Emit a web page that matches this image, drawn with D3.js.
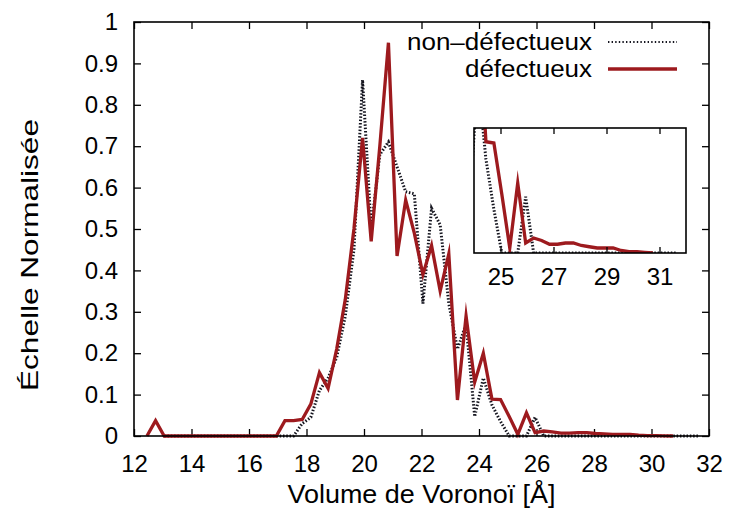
<!DOCTYPE html>
<html>
<head>
<meta charset="utf-8">
<script src="https://cdn.jsdelivr.net/npm/d3@7/dist/d3.min.js"></script>
<style>
  html, body { margin: 0; padding: 0; background: #fff; }
  svg { display: block; font-family: "Liberation Sans", Arial, Helvetica, sans-serif; }
</style>
</head>
<body>
<svg id="chart" width="730" height="514"></svg>
<script>
// Histogram bin centres (Voronoi volume, Å)
const volume = [
  12.45, 12.75, 13.05, 13.35, 13.65, 13.95, 14.25, 14.55, 14.85, 15.15,
  15.45, 15.75, 16.05, 16.35, 16.65, 16.95, 17.25, 17.55, 17.85, 18.15,
  18.45, 18.75, 19.05, 19.35, 19.65, 19.95, 20.25, 20.55, 20.85, 21.15,
  21.45, 21.75, 22.05, 22.35, 22.65, 22.95, 23.25, 23.55, 23.85, 24.15,
  24.45, 24.75, 25.05, 25.35, 25.65, 25.95, 26.25, 26.55, 26.85, 27.15,
  27.45, 27.75, 28.05, 28.35, 28.65, 28.95, 29.25, 29.55, 29.85, 30.15,
  30.45, 30.75, 31.05, 31.35, 31.65
];

// Normalised counts, atoms without defects (null = no bin drawn)
const nonDefectueux = [
  null, null, 0, 0, 0, 0, 0, 0, 0, 0,
  0, 0, 0, 0, 0, 0, 0, 0, 0.03, 0.045,
  0.11, 0.14, 0.19, 0.29, 0.45, 0.86, 0.50, 0.68, 0.71, 0.65,
  0.59, 0.585, 0.32, 0.55, 0.51, 0.32, 0.21, 0.27, 0.047, 0.14,
  0.075, 0.035, 0, 0, 0, 0.045, 0, 0, 0, 0,
  0, 0, 0, 0, 0, 0, 0, 0, 0, 0,
  0, 0, 0, 0, 0
];

// Normalised counts, defective atoms
const defectueux = [
  0, 0.037, 0, 0, 0, 0, 0, 0, 0, 0,
  0, 0, 0, 0, 0, 0, 0.037, 0.037, 0.04, 0.077,
  0.153, 0.115, 0.21, 0.33, 0.50, 0.72, 0.47, 0.70, 0.95, 0.435,
  0.57, 0.49, 0.39, 0.46, 0.35, 0.44, 0.087, 0.29, 0.13, 0.20,
  0.089, 0.088, 0.047, 0.004, 0.056, 0.008, 0.012, 0.010, 0.007, 0.007,
  0.008, 0.008, 0.006, 0.005, 0.004, 0.004, 0.004, 0.002, 0.001, 0.001,
  0.0005, 0, null, null, null
];

const xTicks = [12, 14, 16, 18, 20, 22, 24, 26, 28, 30, 32];
const yTicks = [0, 0.1, 0.2, 0.3, 0.4, 0.5, 0.6, 0.7, 0.8, 0.9, 1];
const yTickLabels = ["0", "0.1", "0.2", "0.3", "0.4", "0.5", "0.6", "0.7", "0.8", "0.9", "1"];
const insetTicks = [25, 27, 29, 31];
const seriesNames = ["non\u2013défectueux", "défectueux"];

const RED = "#9d1a1e";
const DOT = "#15151f";

const svg = d3.select("#chart");

// ---------- main panel ----------
const M = { left: 134, right: 709, top: 22, bottom: 436 };
const x = d3.scaleLinear().domain([12, 32]).range([M.left, M.right]);
const y = d3.scaleLinear().domain([0, 1]).range([M.bottom, M.top]);

const pts = (vals) => volume.map((v, i) => [v, vals[i]]);

function drawSeries(g, xs, ys, vals, style) {
  const line = d3.line()
    .defined(d => d[1] !== null)
    .x(d => xs(d[0]))
    .y(d => ys(d[1]));
  g.append("path")
    .datum(pts(vals))
    .attr("fill", "none")
    .attr("d", line)
    .call(style);
}
const dottedStyle = p => p.attr("stroke", DOT).attr("stroke-width", 3)
  .attr("stroke-dasharray", "1.5 1.8").attr("stroke-linecap", "butt");
const redStyle = p => p.attr("stroke", RED).attr("stroke-width", 3.3)
  .attr("stroke-linejoin", "miter").attr("stroke-miterlimit", 10);

const tickFont = g => g.selectAll("text")
  .attr("font-size", 24)
  .attr("fill", "#000")
  .attr("font-family", "'Liberation Sans', Arial, Helvetica, sans-serif");

// axes with inward ticks on all four sides
svg.append("g")
  .attr("transform", `translate(0,${M.bottom})`)
  .call(d3.axisBottom(x).tickValues(xTicks).tickFormat(d3.format("d"))
    .tickSizeInner(-7).tickSizeOuter(0).tickPadding(19))
  .call(g => g.select(".domain").remove())
  .call(g => g.selectAll("line").attr("stroke", "#000").attr("stroke-width", 1.3))
  .call(tickFont);

svg.append("g")
  .attr("transform", `translate(0,${M.top})`)
  .call(d3.axisTop(x).tickValues(xTicks).tickFormat("")
    .tickSizeInner(-7).tickSizeOuter(0))
  .call(g => g.select(".domain").remove())
  .call(g => g.selectAll("line").attr("stroke", "#000").attr("stroke-width", 1.3));

svg.append("g")
  .attr("transform", `translate(${M.left},0)`)
  .call(d3.axisLeft(y).tickValues(yTicks).tickFormat((d, i) => yTickLabels[i])
    .tickSizeInner(-7).tickSizeOuter(0).tickPadding(16))
  .call(g => g.select(".domain").remove())
  .call(g => g.selectAll("line").attr("stroke", "#000").attr("stroke-width", 1.3))
  .call(tickFont);

svg.append("g")
  .attr("transform", `translate(${M.right},0)`)
  .call(d3.axisRight(y).tickValues(yTicks).tickFormat("")
    .tickSizeInner(-7).tickSizeOuter(0))
  .call(g => g.select(".domain").remove())
  .call(g => g.selectAll("line").attr("stroke", "#000").attr("stroke-width", 1.3));

const mainG = svg.append("g");
drawSeries(mainG, x, y, nonDefectueux, dottedStyle);
drawSeries(mainG, x, y, defectueux, redStyle);

svg.append("rect")
  .attr("x", M.left).attr("y", M.top)
  .attr("width", M.right - M.left).attr("height", M.bottom - M.top)
  .attr("fill", "none").attr("stroke", "#000").attr("stroke-width", 1.6);

// axis titles
svg.append("text")
  .attr("x", (M.left + M.right) / 2).attr("y", 503)
  .attr("text-anchor", "middle")
  .attr("font-size", 25)
  .attr("textLength", 268).attr("lengthAdjust", "spacingAndGlyphs")
  .text("Volume de Voronoï [Å]");

svg.append("text")
  .attr("transform", "translate(38,255) rotate(-90)")
  .attr("text-anchor", "middle")
  .attr("font-size", 24)
  .attr("textLength", 272).attr("lengthAdjust", "spacingAndGlyphs")
  .text("Échelle Normalisée");

// legend
const legend = svg.append("g");
const legY = [50, 77];
seriesNames.forEach((name, i) => {
  legend.append("text")
    .attr("x", 592).attr("y", legY[i])
    .attr("text-anchor", "end")
    .attr("font-size", 23)
    .attr("textLength", i === 0 ? 185 : 127).attr("lengthAdjust", "spacingAndGlyphs")
    .text(name);
  legend.append("line")
    .attr("x1", 608).attr("x2", 677)
    .attr("y1", legY[i] - 8).attr("y2", legY[i] - 8)
    .call(i === 0
      ? l => l.attr("stroke", DOT).attr("stroke-width", 2).attr("stroke-dasharray", "1.4 2.2")
      : redStyle);
});

// ---------- inset: tail of the distribution ----------
const I = { left: 474, right: 686, top: 128, bottom: 253 };
const xi = d3.scaleLinear().domain([24, 32]).range([I.left, I.right]);
const yi = d3.scaleLinear().domain([0, 0.1]).range([I.bottom, I.top]);

svg.append("rect")
  .attr("x", I.left).attr("y", I.top)
  .attr("width", I.right - I.left).attr("height", I.bottom - I.top)
  .attr("fill", "#fff");

svg.append("clipPath").attr("id", "insetClip")
  .append("rect")
  .attr("x", I.left).attr("y", I.top)
  .attr("width", I.right - I.left).attr("height", I.bottom - I.top);

const insetG = svg.append("g").attr("clip-path", "url(#insetClip)");
drawSeries(insetG, xi, yi, nonDefectueux, dottedStyle);
drawSeries(insetG, xi, yi, defectueux, redStyle);

svg.append("g")
  .attr("transform", `translate(0,${I.bottom})`)
  .call(d3.axisBottom(xi).tickValues(insetTicks).tickFormat(d3.format("d"))
    .tickSizeInner(-6).tickSizeOuter(0).tickPadding(15))
  .call(g => g.select(".domain").remove())
  .call(g => g.selectAll("line").attr("stroke", "#000").attr("stroke-width", 1.3))
  .call(tickFont);

svg.append("g")
  .attr("transform", `translate(0,${I.top})`)
  .call(d3.axisTop(xi).tickValues(insetTicks).tickFormat("")
    .tickSizeInner(-6).tickSizeOuter(0))
  .call(g => g.select(".domain").remove())
  .call(g => g.selectAll("line").attr("stroke", "#000").attr("stroke-width", 1.3));

svg.append("rect")
  .attr("x", I.left).attr("y", I.top)
  .attr("width", I.right - I.left).attr("height", I.bottom - I.top)
  .attr("fill", "none").attr("stroke", "#000").attr("stroke-width", 1.6);
</script>
</body>
</html>
